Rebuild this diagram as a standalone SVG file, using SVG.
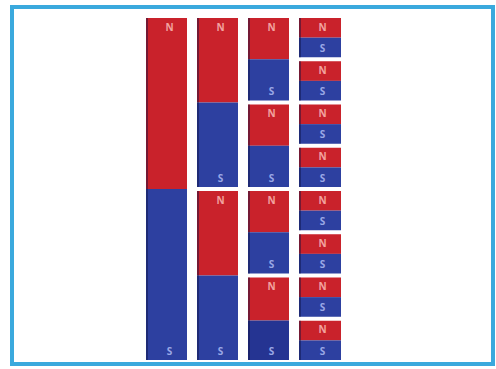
<svg xmlns="http://www.w3.org/2000/svg" width="496" height="369" viewBox="0 0 496 369">
<style>
.n{fill:#c9222b}
.s{fill:#2d40a0}
.sd{fill:#253492}
.sh{fill:#0d1040;opacity:0.45}
.t{font-family:"Open Sans","Liberation Sans",sans-serif;font-size:10px;font-weight:bold;text-anchor:middle}
.tn{fill:#f2a2a0}
.ts{fill:#9aa8e6}
.frame{fill:#ffffff;stroke:#3aa9dd;stroke-width:4}
</style>
<rect x="0" y="0" width="496" height="369" fill="#ffffff"/>
<rect class="frame" x="12" y="7" width="481" height="357"/>
<g id="magnets">
<g id="c1-m1"><rect class="n" x="146" y="18" width="41" height="171"/><rect class="s" x="146" y="189" width="41" height="171"/><rect class="sh" x="146" y="18" width="2" height="342"/><text class="t tn" x="169.5" y="30.5">N</text><text class="t ts" x="169.5" y="354.5">S</text></g>

<g id="c2-m1"><rect class="n" x="197" y="18" width="41" height="84.5"/><rect class="s" x="197" y="102.5" width="41" height="84.5"/><rect class="sh" x="197" y="18" width="2" height="169"/><text class="t tn" x="220.5" y="30.5">N</text><text class="t ts" x="220.5" y="181.5">S</text></g>
<g id="c2-m2"><rect class="n" x="197" y="191" width="41" height="84.5"/><rect class="s" x="197" y="275.5" width="41" height="84.5"/><rect class="sh" x="197" y="191" width="2" height="169"/><text class="t tn" x="220.5" y="203.5">N</text><text class="t ts" x="220.5" y="354.5">S</text></g>

<g id="c3-m1"><rect class="n" x="248" y="18" width="41" height="41.25"/><rect class="s" x="248" y="59.25" width="41" height="41.25"/><rect class="sh" x="248" y="18" width="2" height="82.5"/><text class="t tn" x="271.5" y="30.5">N</text><text class="t ts" x="271.5" y="95">S</text></g>
<g id="c3-m2"><rect class="n" x="248" y="104.5" width="41" height="41.25"/><rect class="s" x="248" y="145.75" width="41" height="41.25"/><rect class="sh" x="248" y="104.5" width="2" height="82.5"/><text class="t tn" x="271.5" y="117">N</text><text class="t ts" x="271.5" y="181.5">S</text></g>
<g id="c3-m3"><rect class="n" x="248" y="191" width="41" height="41.25"/><rect class="s" x="248" y="232.25" width="41" height="41.25"/><rect class="sh" x="248" y="191" width="2" height="82.5"/><text class="t tn" x="271.5" y="203.5">N</text><text class="t ts" x="271.5" y="268">S</text></g>
<g id="c3-m4"><rect class="n" x="248" y="277.5" width="41" height="43"/><rect class="sd" x="248" y="320.5" width="41" height="39.5"/><rect class="sh" x="248" y="277.5" width="2" height="82.5"/><text class="t tn" x="271.5" y="290">N</text><text class="t ts" x="271.5" y="354.5">S</text></g>

<g id="c4-m1"><rect class="n" x="299" y="18" width="42" height="19.625"/><rect class="s" x="299" y="37.625" width="42" height="19.625"/><rect class="sh" x="299" y="18" width="2" height="39.25"/><text class="t tn" x="322.5" y="30.5">N</text><text class="t ts" x="322.5" y="51.75">S</text></g>
<g id="c4-m2"><rect class="n" x="299" y="61.25" width="42" height="19.625"/><rect class="s" x="299" y="80.875" width="42" height="19.625"/><rect class="sh" x="299" y="61.25" width="2" height="39.25"/><text class="t tn" x="322.5" y="73.75">N</text><text class="t ts" x="322.5" y="95">S</text></g>
<g id="c4-m3"><rect class="n" x="299" y="104.5" width="42" height="19.625"/><rect class="s" x="299" y="124.125" width="42" height="19.625"/><rect class="sh" x="299" y="104.5" width="2" height="39.25"/><text class="t tn" x="322.5" y="117">N</text><text class="t ts" x="322.5" y="138.25">S</text></g>
<g id="c4-m4"><rect class="n" x="299" y="147.75" width="42" height="19.625"/><rect class="s" x="299" y="167.375" width="42" height="19.625"/><rect class="sh" x="299" y="147.75" width="2" height="39.25"/><text class="t tn" x="322.5" y="160.25">N</text><text class="t ts" x="322.5" y="181.5">S</text></g>
<g id="c4-m5"><rect class="n" x="299" y="191" width="42" height="19.625"/><rect class="s" x="299" y="210.625" width="42" height="19.625"/><rect class="sh" x="299" y="191" width="2" height="39.25"/><text class="t tn" x="322.5" y="203.5">N</text><text class="t ts" x="322.5" y="224.75">S</text></g>
<g id="c4-m6"><rect class="n" x="299" y="234.25" width="42" height="19.625"/><rect class="s" x="299" y="253.875" width="42" height="19.625"/><rect class="sh" x="299" y="234.25" width="2" height="39.25"/><text class="t tn" x="322.5" y="246.75">N</text><text class="t ts" x="322.5" y="268">S</text></g>
<g id="c4-m7"><rect class="n" x="299" y="277.5" width="42" height="19.625"/><rect class="s" x="299" y="297.125" width="42" height="19.625"/><rect class="sh" x="299" y="277.5" width="2" height="39.25"/><text class="t tn" x="322.5" y="290">N</text><text class="t ts" x="322.5" y="311.25">S</text></g>
<g id="c4-m8"><rect class="n" x="299" y="320.75" width="42" height="19.625"/><rect class="s" x="299" y="340.375" width="42" height="19.625"/><rect class="sh" x="299" y="320.75" width="2" height="39.25"/><text class="t tn" x="322.5" y="333.25">N</text><text class="t ts" x="322.5" y="354.5">S</text></g>
</g>
<g id="connectors"/>
</svg>
